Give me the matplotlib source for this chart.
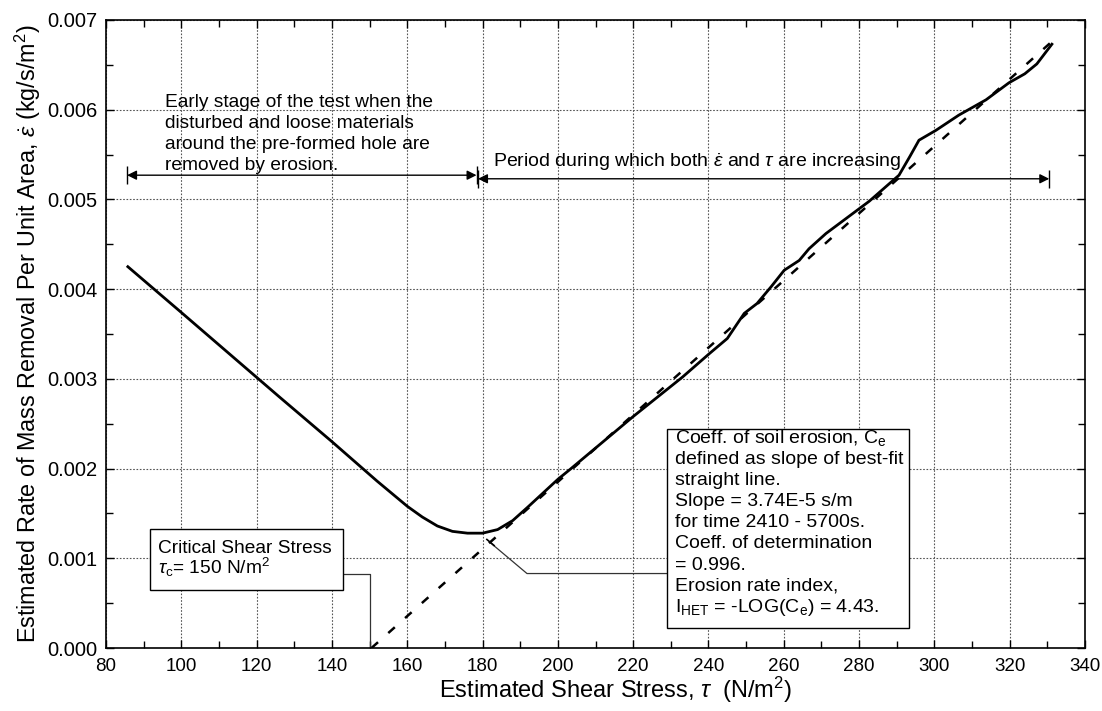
import matplotlib
matplotlib.use("Agg")
import matplotlib.pyplot as plt
from matplotlib.patches import Rectangle
from matplotlib.ticker import MultipleLocator, FormatStrFormatter

plt.rcParams['font.family'] = ['Liberation Sans', 'DejaVu Sans']
plt.rcParams['mathtext.fontset'] = 'custom'
plt.rcParams['mathtext.rm'] = 'Liberation Sans'
plt.rcParams['mathtext.it'] = 'Liberation Sans:italic'
plt.rcParams['mathtext.bf'] = 'Liberation Sans:bold'

# measured curve: estimated shear stress (N/m2) vs rate of mass removal (kg/s/m2)
tau = [85.8, 100, 126, 140, 146, 152, 160, 164, 168, 172, 176, 180, 184,
       188, 192, 200, 203.5, 220, 233.1, 240.2, 245, 247.4, 249.5, 252.9,
       256.7, 260.1, 264.1, 266.7, 271.2, 282.7, 290.6, 293.5, 295.9, 300.4,
       306.5, 313.7, 319.8, 324, 327.2, 331.2]
rate = [0.00425, 0.00374, 0.00280, 0.00230, 0.00208, 0.00186, 0.00158,
        0.00146, 0.00136, 0.00130, 0.00128, 0.00128, 0.00132, 0.00142,
        0.00157, 0.00188, 0.00200, 0.00258, 0.00302, 0.00328, 0.00345,
        0.00360, 0.00373, 0.00384, 0.00403, 0.00421, 0.00432, 0.00445,
        0.00462, 0.00498, 0.00527, 0.00548, 0.00566, 0.00577, 0.00594,
        0.00611, 0.00630, 0.00640, 0.00651, 0.00673]

# best-fit straight line (slope 3.74E-5 s/m), tau_c = 150 N/m2
fit_tau = [150.5, 332.0]
fit_rate = [0.0, 0.00679]
tau_c = 150

early_span = [85.6, 178.4]
increase_span = [178.8, 330.5]


def span_arrow(ax, x0, x1, y):
    ax.annotate("", xy=(x0, y), xytext=(x1, y),
                arrowprops=dict(arrowstyle="<|-|>", color="black", lw=1.0,
                                shrinkA=0, shrinkB=0, mutation_scale=14))
    ax.plot([x0, x1], [y, y], ls="none", marker="|", ms=13, mew=1.0,
            color="black")


def main():
    fig = plt.figure(figsize=(11.02, 7.11), dpi=100)
    ax = fig.add_axes([0.0962, 0.0886, 0.8884, 0.8833])

    ax.plot(tau, rate, color="black", lw=2.0, zorder=3)
    ax.plot(fit_tau, fit_rate, color="black", lw=1.8, dashes=(3.5, 5.5), zorder=3)

    ax.set_xlim(80, 340)
    ax.set_ylim(0, 0.007)
    ax.xaxis.set_major_locator(MultipleLocator(20))
    ax.xaxis.set_minor_locator(MultipleLocator(10))
    ax.yaxis.set_major_locator(MultipleLocator(0.001))
    ax.yaxis.set_minor_locator(MultipleLocator(0.0005))
    ax.yaxis.set_major_formatter(FormatStrFormatter("%.3f"))
    ax.tick_params(which="both", direction="in", top=True, right=True,
                   color="black")
    ax.tick_params(axis="x", labelsize=13.5, pad=7)
    ax.tick_params(axis="y", labelsize=14.5, pad=6)
    ax.tick_params(which="major", length=6, width=1)
    ax.tick_params(which="minor", length=5, width=1)
    ax.grid(True, which="major", color="#555555", lw=0.8,
            linestyle=(0, (1.5, 1.5)))
    for sp in ax.spines.values():
        sp.set_linewidth(1.2)

    ax.set_xlabel(r"Estimated Shear Stress, $\tau$  (N/m$^2$)", fontsize=17,
                  labelpad=0)
    ax.xaxis.label.set_x(0.52)
    ax.set_ylabel(r"Estimated Rate of Mass Removal Per Unit Area, $\dot{\varepsilon}$ (kg/s/m$^2$)",
                  fontsize=16.8, labelpad=3)

    # span arrows and their notes
    span_arrow(ax, early_span[0], early_span[1], 0.00527)
    span_arrow(ax, increase_span[0], increase_span[1], 0.00523)
    ax.text(95.6, 0.00533,
            "Early stage of the test when the\ndisturbed and loose materials\n"
            "around the pre-formed hole are\nremoved by erosion.",
            fontsize=13.8, va="baseline", ha="left", linespacing=1.3)
    ax.text(182.9, 0.00536,
            r"Period during which both $\dot{\varepsilon}$ and $\tau$ are increasing",
            fontsize=14, va="baseline", ha="left")

    # critical shear stress box
    ax.add_patch(Rectangle((91.7, 0.00065), 51.2, 0.00068, facecolor="white",
                           edgecolor="black", lw=1.0, zorder=4))
    ax.text(93.8, 0.00106, "Critical Shear Stress", fontsize=13.8,
            va="baseline", zorder=5)
    ax.text(93.8, 0.00082, r"$\tau_\mathrm{c}$= 150 N/m$^2$", fontsize=13.8,
            va="baseline", zorder=5)
    ax.plot([142.9, tau_c, tau_c], [0.00082, 0.00082, 0.0], color="#333333",
            lw=0.9, zorder=2)

    # soil erosion coefficient box
    ax.add_patch(Rectangle((229.0, 0.00022), 64.3, 0.00222, facecolor="white",
                           edgecolor="black", lw=1.0, zorder=4))
    lines = [r"Coeff. of soil erosion, C$_\mathrm{e}$",
             "defined as slope of best-fit",
             "straight line.",
             "Slope = 3.74E-5 s/m",
             "for time 2410 - 5700s.",
             "Coeff. of determination",
             "= 0.996.",
             "Erosion rate index,",
             r"I$_\mathrm{HET}$ = -LOG(C$_\mathrm{e}$) = 4.43."]
    for i, s in enumerate(lines):
        ax.text(231.0, 0.00229 - i * 0.000236, s, fontsize=14.0,
                va="baseline", zorder=5)
    ax.plot([181.9, 191.8, 229.0], [0.00118, 0.00083, 0.00083],
            color="#333333", lw=0.9, zorder=2)
    ax.plot([181.9], [0.00118], marker=(2, 0, 50), ms=8, mew=1.2,
            color="black", zorder=3)

    fig.savefig("out.png", dpi=100)
    plt.close(fig)


if __name__ == "__main__":
    main()
